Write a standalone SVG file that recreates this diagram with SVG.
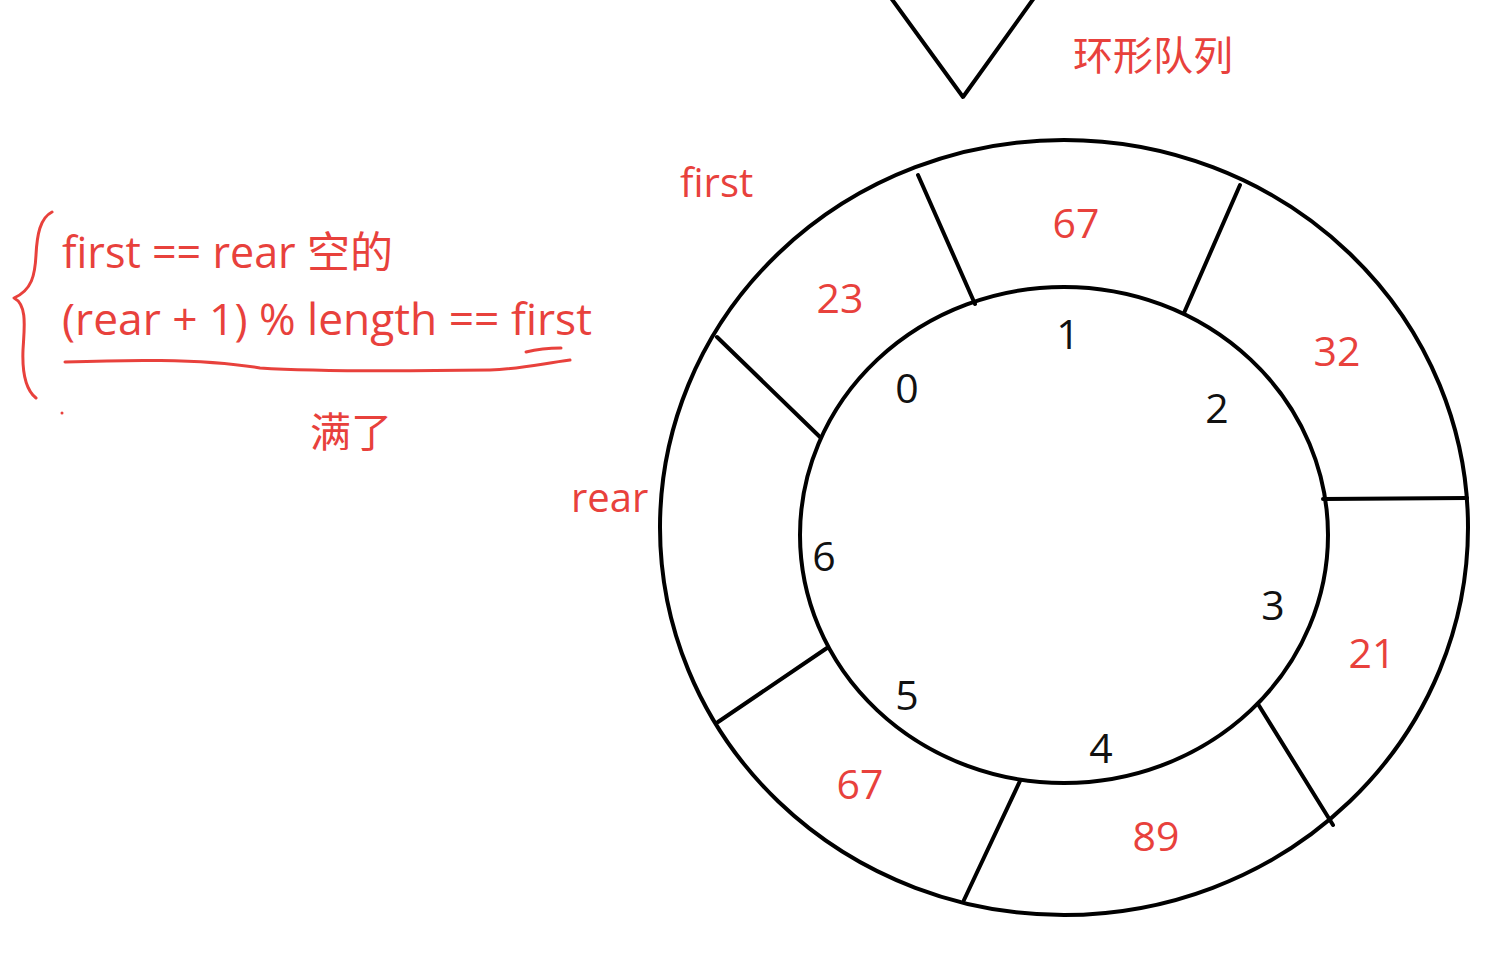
<svg xmlns="http://www.w3.org/2000/svg" width="1486" height="953" viewBox="0 0 1486 953">
<style>
.ln{fill:none;stroke:#000;stroke-width:4;stroke-linecap:round;stroke-linejoin:round}
.ink{fill:none;stroke:#e8413c;stroke-width:3;stroke-linecap:round;stroke-linejoin:round}
.red{fill:#e8413c;font-family:"Open Sans","Noto Sans CJK SC",sans-serif}
.blk{fill:#111;font-family:"Open Sans","Noto Sans CJK SC",sans-serif;font-size:41px;text-anchor:middle}
.val{font-size:41px;text-anchor:middle}
</style>
<rect width="1486" height="953" fill="#fff"/>
<g id="pointer">
<polyline class="ln" points="891,-2 963,97 1034,-2"/>
</g>
<g id="title"><text class="red" x="1073" y="70" font-size="40">环形队列</text></g>
<g id="ring">
<ellipse class="ln" cx="1064" cy="527.5" rx="404" ry="387.5"/>
<ellipse class="ln" cx="1064" cy="535" rx="264" ry="248"/>
</g>
<g id="connectors">
<line class="ln" x1="918" y1="175" x2="975" y2="304"/>
<line class="ln" x1="717" y1="337" x2="820" y2="437"/>
<line class="ln" x1="1240" y1="185" x2="1184" y2="313"/>
<line class="ln" x1="1323" y1="499" x2="1467" y2="498"/>
<line class="ln" x1="1258" y1="704" x2="1333" y2="825"/>
<line class="ln" x1="1020" y1="781" x2="964" y2="900"/>
<line class="ln" x1="827" y1="648" x2="718" y2="722"/>
</g>
<g id="slot0"><text class="red val" x="840" y="313">23</text><text class="blk" x="907" y="403">0</text></g>
<g id="slot1"><text class="red val" x="1076" y="238">67</text><text class="blk" x="1068" y="349">1</text></g>
<g id="slot2"><text class="red val" x="1337" y="366">32</text><text class="blk" x="1217" y="423">2</text></g>
<g id="slot3"><text class="red val" x="1372" y="668">21</text><text class="blk" x="1273" y="620">3</text></g>
<g id="slot4"><text class="red val" x="1156" y="851">89</text><text class="blk" x="1101" y="763">4</text></g>
<g id="slot5"><text class="red val" x="860" y="799">67</text><text class="blk" x="907" y="710">5</text></g>
<g id="slot6"><text class="blk" x="824" y="571">6</text></g>
<g id="label-first"><text class="red" x="680" y="197" font-size="40">first</text></g>
<g id="label-rear"><text class="red" x="571" y="512" font-size="40">rear</text></g>
<g id="notes">
<path class="ink" d="M52,212 C40,218 37,235 36,255 C35,275 32,290 14,298 C28,305 24,330 23,350 C22,375 26,390 36,398"/>
<text class="red" x="62" y="268" font-size="43" textLength="331" lengthAdjust="spacingAndGlyphs">first == rear 空的</text>
<text class="red" x="62" y="335" font-size="43" textLength="530" lengthAdjust="spacingAndGlyphs">(rear + 1) % length == first</text>
<path class="ink" d="M65,362 C120,360 200,358 260,368 C320,372 420,371 490,370 C520,369 540,364 570,360"/>
<path class="ink" d="M526,352 C538,349 550,348 561,348"/>
<circle cx="62" cy="413" r="1.5" fill="#e8413c"/>
<text class="red" x="310" y="447" font-size="41">满了</text>
</g>
</svg>
